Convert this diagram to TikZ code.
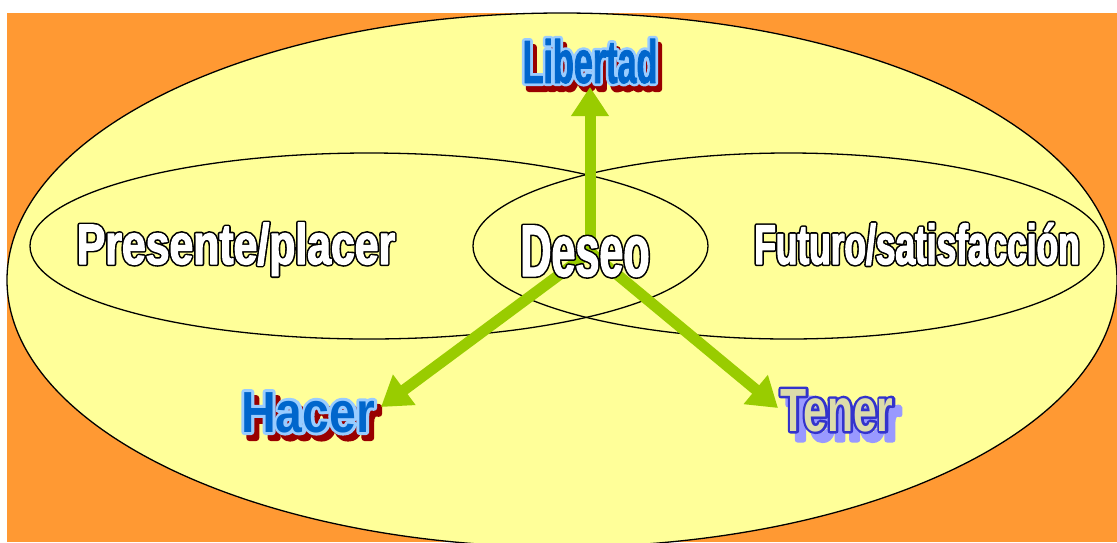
\documentclass[tikz,border=0pt]{standalone}
\usepackage{fontspec}
\setmainfont{Liberation Sans}
\usetikzlibrary{arrows.meta}
\definecolor{bgorange}{HTML}{FF9933}
\definecolor{paleyellow}{HTML}{FFFF99}
\definecolor{arrowgreen}{HTML}{99CC00}
\definecolor{wordblue}{HTML}{0066CC}
\definecolor{lightblue}{HTML}{99CCFF}
\definecolor{shadowred}{HTML}{990000}
\definecolor{tenerfill}{HTML}{DCDCAA}
\definecolor{tenerline}{HTML}{3333CC}
\definecolor{tenershadow}{HTML}{9999FF}
% size and horizontal stretch of a word
\newcommand\wsize[2]{\fontsize{#1}{#1}\selectfont\addfontfeatures{FakeStretch=#2}}
% glyphs filled and stroked: #1 stroke colour (r g b), #2 stroke width, #3 text
\newcommand\stroked[3]{\special{pdf:literal direct 2 Tr #2 w 1 j 1 J #1 RG}#3\special{pdf:literal direct 0 Tr}}
\tikzset{
  region/.style={draw=black, line width=1.3pt},
  flow/.style={draw=arrowgreen, line width=11pt, -{Triangle[length=29pt,width=36pt]}},
  word/.style={inner sep=0pt, anchor=base, font=\bfseries},
}
\begin{document}
\begin{tikzpicture}[x=1pt, y=-1pt]
  \useasboundingbox (0,0) rectangle (1117,542);
  \fill[white] (0,0) rectangle (1117,542);
  \fill[bgorange] (7,13) rectangle (1117,542);
  % regions
  \filldraw[region, fill=paleyellow] (562,280) ellipse [x radius=555, y radius=267];
  \draw[region] (369,246) ellipse [x radius=339, y radius=93];
  \draw[region] (788.5,246) ellipse [x radius=315.5, y radius=93];
  % Libertad
  \node[word, text=shadowred] (libshadow) at (594,89)
    {\wsize{61}{0.56}\stroked{0.6 0 0}{6}{Libertad}};
  \node[word, text=lightblue] (libline) at (590,83)
    {\wsize{61}{0.56}\stroked{0.6 0.8 1}{6}{Libertad}};
  \node[word, text=wordblue] (libertad) at (590,83)
    {\wsize{61}{0.56}\stroked{0 0.4 0.8}{0.8}{Libertad}};
  % Hacer
  \node[word, text=shadowred] (hacshadow) at (313,438)
    {\wsize{58}{0.83}\stroked{0.6 0 0}{6}{Hacer}};
  \node[word, text=lightblue] (hacline) at (308,432)
    {\wsize{58}{0.83}\stroked{0.6 0.8 1}{6}{Hacer}};
  \node[word, text=wordblue] (hacer) at (308,432)
    {\wsize{58}{0.83}Hacer};
  % Tener
  \node[word, text=tenershadow] (tenshadow) at (844,440)
    {\wsize{61}{0.70}\stroked{0.6 0.6 1}{5}{Tener}};
  \node[word, text=tenerline] (tenline) at (837,431)
    {\wsize{61}{0.70}\stroked{0.2 0.2 0.8}{5}{Tener}};
  \node[word, text=tenerfill] (tener) at (837,431)
    {\wsize{61}{0.70}Tener};
  % other labels
  \node[word, text=black] (presline) at (236,264)
    {\wsize{57}{0.75}\stroked{0 0 0}{4.4}{Presente/placer}};
  \node[word, text=white] (presente) at (236,264)
    {\wsize{57}{0.75}\stroked{1 1 1}{1.2}{Presente/placer}};
  \node[word, text=black] (futline) at (917,264)
    {\wsize{56}{0.63}\stroked{0 0 0}{4.4}{Futuro/satisfacción}};
  \node[word, text=white] (futuro) at (917,264)
    {\wsize{56}{0.63}\stroked{1 1 1}{1.2}{Futuro/satisfacción}};
  % arrows
  \coordinate (hub) at (590,252);
  \coordinate (libtip) at (590,87);
  \coordinate (hactip) at (381,407);
  \coordinate (tentip) at (778,408);
  \draw[flow] (hub) -- (libtip);
  \draw[flow] (hub) -- (hactip);
  \draw[flow] (hub) -- (tentip);
  % Deseo
  \node[word, text=black] (deseoline) at (585,276)
    {\wsize{73}{0.59}\stroked{0 0 0}{4.4}{Deseo}};
  \node[word, text=white] (deseo) at (585,276)
    {\wsize{73}{0.59}\stroked{1 1 1}{1.2}{Deseo}};
\end{tikzpicture}
\end{document}
